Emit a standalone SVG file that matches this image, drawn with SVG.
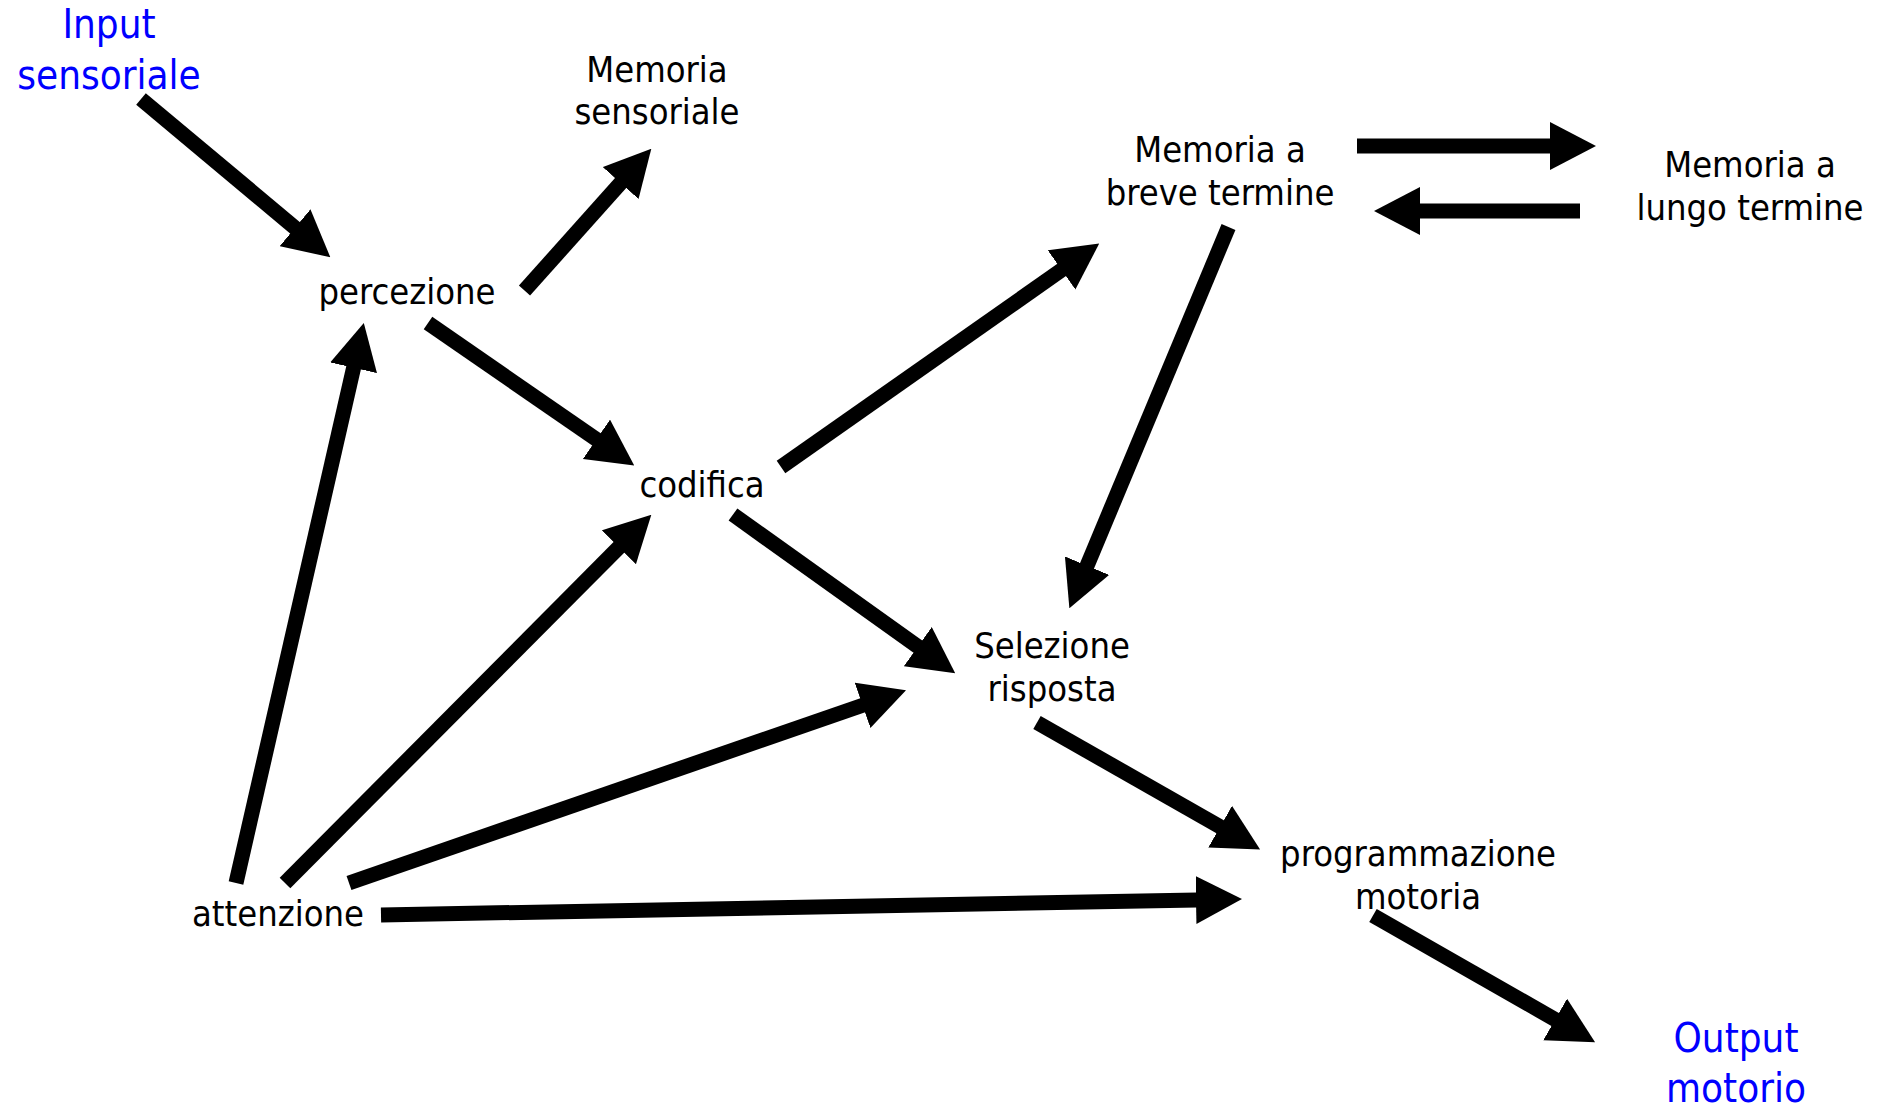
<svg xmlns="http://www.w3.org/2000/svg" width="1879" height="1110" viewBox="0 0 1879 1110">
<style>
.t{font-family:"DejaVu Sans Condensed","DejaVu Sans","Liberation Sans",sans-serif;font-stretch:condensed;font-size:36px;fill:#000;text-anchor:middle}
.b{font-size:40px;fill:#0000ff}
.c line{stroke:#000;stroke-width:15;fill:none;marker-end:url(#ah)}
</style>
<defs>
<marker id="ah" markerUnits="userSpaceOnUse" viewBox="0 0 46 48" refX="1" refY="24" markerWidth="46" markerHeight="48" orient="auto">
<path d="M0,0 L46,24 L0,48 Z" fill="#000"/>
</marker>
</defs>
<rect width="1879" height="1110" fill="#fff"/>
<g id="n-input"><text class="t b" x="109" y="38">Input</text><text class="t b" x="109" y="89">sensoriale</text></g>
<g id="n-memsens"><text class="t" x="657" y="82">Memoria</text><text class="t" x="657" y="124">sensoriale</text></g>
<g id="n-mbt"><text class="t" x="1220" y="162">Memoria a</text><text class="t" x="1220" y="205">breve termine</text></g>
<g id="n-mlt"><text class="t" x="1750" y="177">Memoria a</text><text class="t" x="1750" y="220">lungo termine</text></g>
<g id="n-perc"><text class="t" x="407" y="304">percezione</text></g>
<g id="n-cod"><text class="t" x="702" y="497">codifica</text></g>
<g id="n-sel"><text class="t" x="1052" y="658">Selezione</text><text class="t" x="1052" y="701">risposta</text></g>
<g id="n-prog"><text class="t" x="1418" y="866">programmazione</text><text class="t" x="1418" y="909">motoria</text></g>
<g id="n-att"><text class="t" x="278" y="926">attenzione</text></g>
<g id="n-out"><text class="t b" x="1736" y="1052">Output</text><text class="t b" x="1736" y="1102">motorio</text></g>
<g id="connectors" class="c">
<line x1="141" y1="99" x2="295.8" y2="228.4"/>
<line x1="524.5" y1="290.5" x2="621.3" y2="182.3"/>
<line x1="1357" y1="146" x2="1551" y2="146"/>
<line x1="1580" y1="211" x2="1419" y2="211"/>
<line x1="428" y1="323" x2="597.2" y2="439.9"/>
<line x1="781" y1="467" x2="1062.4" y2="269.4"/>
<line x1="1228.5" y1="227" x2="1086.7" y2="566.6"/>
<line x1="733" y1="514.5" x2="918.6" y2="647.2"/>
<line x1="1037" y1="722.5" x2="1221" y2="827.2"/>
<line x1="1373" y1="915.5" x2="1556" y2="1020"/>
<line x1="236" y1="883" x2="353.8" y2="366.8"/>
<line x1="285" y1="883" x2="619.6" y2="546.6"/>
<line x1="349" y1="883" x2="863.5" y2="705"/>
<line x1="381" y1="915" x2="1197" y2="899.9"/>
</g>
</svg>
